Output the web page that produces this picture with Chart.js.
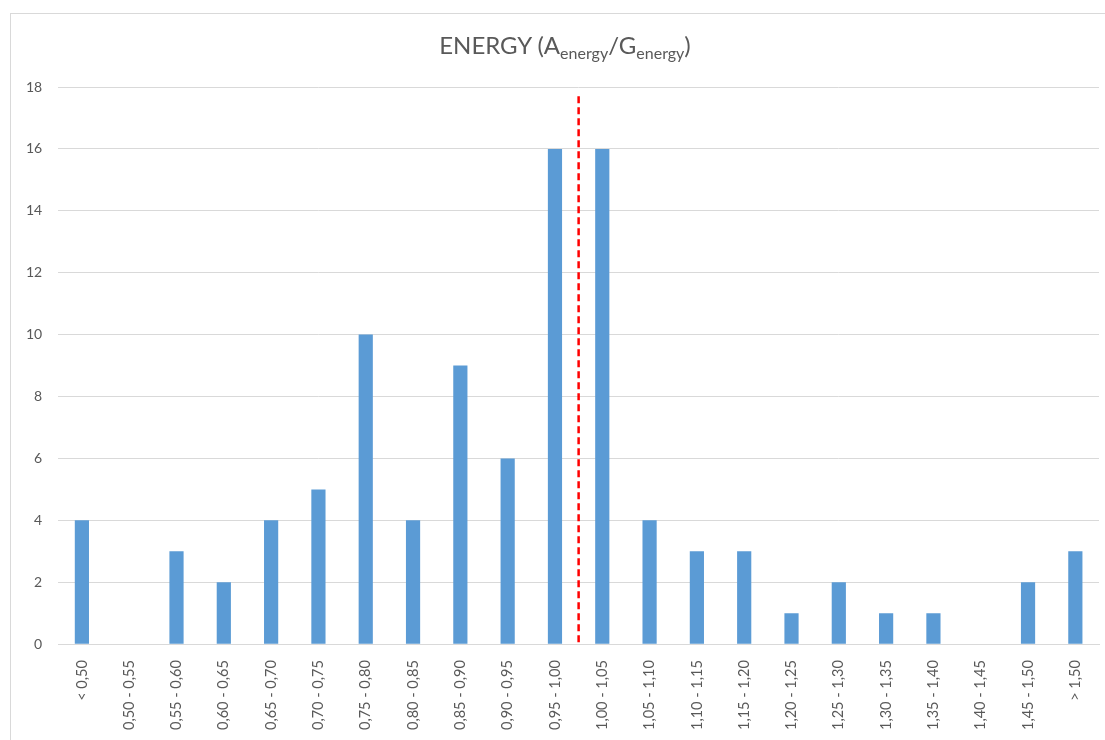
<!DOCTYPE html>
<html>
<head>
<meta charset="utf-8">
<script src="https://cdn.jsdelivr.net/npm/chart.js@4/dist/chart.umd.min.js"></script>
<style>
    body { margin: 0; background: #fff; }
    #moldura { position: relative; width: 1105px; height: 740px; overflow: hidden; }
    #borda { position: absolute; left: 10px; top: 13px; width: 1100px; height: 740px; border: 1px solid #d9d9d9; box-sizing: border-box; }
    #titulo { position: absolute; left: 0; width: 1130px; top: 30px; text-align: center; font-family: Lato, "Open Sans", sans-serif; font-size: 24px; color: #595959; }
    #titulo sub { font-size: 16px; vertical-align: -5px; line-height: 0; }
    #grafico { position: absolute; left: 0; top: 0; }
</style>
</head>
<body>
<div id="moldura">
    <div id="borda"></div>
    <canvas id="grafico" width="1105" height="740"></canvas>
    <div id="titulo">ENERGY (A<sub>energy</sub>/G<sub>energy</sub>)</div>
</div>
<script>
// faixas da razao A/G
const faixas = ['< 0,50', '0,50 - 0,55', '0,55 - 0,60', '0,60 - 0,65', '0,65 - 0,70', '0,70 - 0,75',
    '0,75 - 0,80', '0,80 - 0,85', '0,85 - 0,90', '0,90 - 0,95', '0,95 - 1,00', '1,00 - 1,05',
    '1,05 - 1,10', '1,10 - 1,15', '1,15 - 1,20', '1,20 - 1,25', '1,25 - 1,30', '1,30 - 1,35',
    '1,35 - 1,40', '1,40 - 1,45', '1,45 - 1,50', '> 1,50'];

// quantidade em cada faixa
const quantidades = [4, 0, 3, 2, 4, 5, 10, 4, 9, 6, 16, 16, 4, 3, 3, 1, 2, 1, 1, 0, 2, 3];

// valores do eixo y
const ticksY = [0, 2, 4, 6, 8, 10, 12, 14, 16, 18];

// linha vermelha de referencia: entre a faixa 10 e 11, ate 17.7
const linhaEntre = [10, 11];
const linhaTopo = 17.7;

const linhaReferencia = {
    id: 'linhaReferencia',
    afterDatasetsDraw(chart) {
        const ctx = chart.ctx;
        const x = (chart.scales.x.getPixelForValue(linhaEntre[0]) + chart.scales.x.getPixelForValue(linhaEntre[1])) / 2;
        const yTopo = chart.scales.y.getPixelForValue(linhaTopo);
        const yBase = chart.scales.y.getPixelForValue(0);
        ctx.save();
        ctx.strokeStyle = '#ff0000';
        ctx.lineWidth = 2.5;
        ctx.setLineDash([7, 4]);
        ctx.beginPath();
        ctx.moveTo(x, yTopo);
        ctx.lineTo(x, yBase);
        ctx.stroke();
        ctx.restore();
    }
};

const config = {
    type: 'bar',
    data: {
        labels: faixas,
        datasets: [{
            data: quantidades,
            backgroundColor: '#5b9bd5',
            barPercentage: 0.3,
            categoryPercentage: 1
        }]
    },
    options: {
        responsive: false,
        animation: false,
        layout: { padding: { top: 87, left: 10, right: 6, bottom: 2 } },
        plugins: {
            legend: { display: false },
            title: { display: false },
            tooltip: { enabled: false }
        },
        scales: {
            x: {
                grid: { display: false },
                border: { color: '#d9d9d9' },
                ticks: {
                    minRotation: 90,
                    maxRotation: 90,
                    autoSkip: false,
                    color: '#595959',
                    font: { family: 'Lato, "Open Sans", sans-serif', size: 14.5 },
                    padding: 8
                }
            },
            y: {
                min: 0,
                max: 18,
                afterBuildTicks: (eixo) => { eixo.ticks = ticksY.map(v => ({ value: v })); },
                grid: { color: '#d9d9d9', drawTicks: false },
                border: { display: false },
                ticks: {
                    color: '#595959',
                    font: { family: 'Lato, "Open Sans", sans-serif', size: 14 },
                    padding: 16
                }
            }
        }
    },
    plugins: [linhaReferencia]
};

let grafico = new Chart(document.getElementById('grafico'), config);
</script>
</body>
</html>
